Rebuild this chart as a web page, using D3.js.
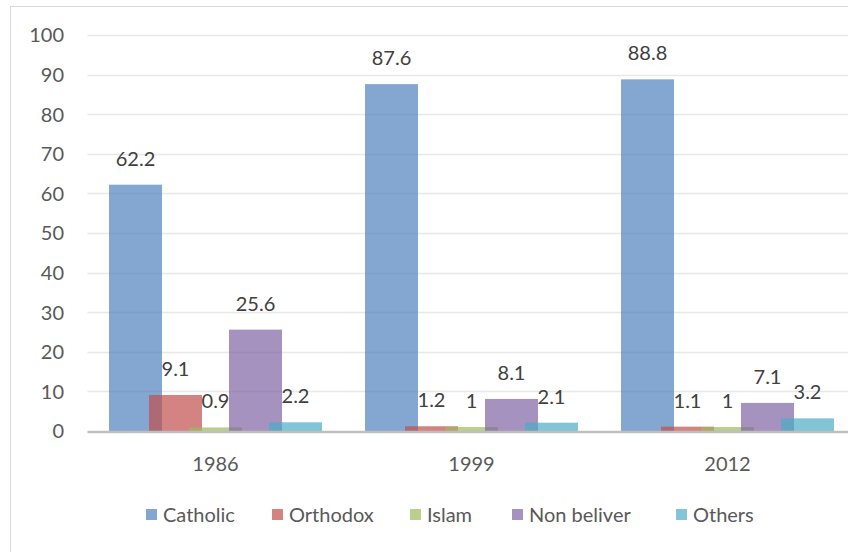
<!DOCTYPE html>
<html><head><meta charset="utf-8">
<script src="https://cdn.jsdelivr.net/npm/d3@7"></script>
<style>body{margin:0;background:#fff}svg{display:block}</style>
</head><body>
<svg id="c" width="848" height="552"></svg>
<script>
const years = ["1986", "1999", "2012"];
const seriesNames = ["Catholic", "Orthodox", "Islam", "Non beliver", "Others"];
const catholic = [62.2, 87.6, 88.8];
const orthodox = [9.1, 1.2, 1.1];
const islam = [0.9, 1, 1];
const nonBeliever = [25.6, 8.1, 7.1];
const others = [2.2, 2.1, 3.2];
const yTicks = [0, 10, 20, 30, 40, 50, 60, 70, 80, 90, 100];
const colors = ["#4F81BD", "#C0504D", "#9BBB59", "#8064A2", "#4BACC6"];

const seriesValues = [catholic, orthodox, islam, nonBeliever, others];
const svg = d3.select("#c");
const font = "Lato, 'Open Sans', sans-serif";
const fs = 20;

// chart border
svg.append("rect").attr("x", 10.5).attr("y", 6.5).attr("width", 900).attr("height", 600)
  .attr("fill", "none").attr("stroke", "#d9d9d9").attr("stroke-width", 1);

const x0 = d3.scaleBand().domain(years).range([87.5, 855.5]);
const y = d3.scaleLinear().domain([0, 100]).range([431, 35]);

const barW = 53, barStep = 40, clusterW = barW + barStep * 4;

// gridlines
svg.append("g").selectAll("line").data(yTicks.filter(d => d > 0)).join("line")
  .attr("x1", 87.5).attr("x2", 860).attr("y1", d => Math.round(y(d)) + 0.5).attr("y2", d => Math.round(y(d)) + 0.5)
  .attr("stroke", "#e8e8e8").attr("stroke-width", 1.5);

// y axis labels
const yAxis = d3.axisLeft(y).tickValues(yTicks).tickSize(0).tickPadding(0);
const gy = svg.append("g").attr("transform", "translate(64,0)").call(yAxis);
gy.select(".domain").remove();
gy.selectAll("text").attr("fill", "#595959").attr("font-size", fs).attr("font-family", font).attr("dy", "0.34em");

// bars
seriesValues.forEach((vals, si) => {
  const g = svg.append("g");
  g.selectAll("rect").data(vals).join("rect")
    .attr("x", (d, i) => x0(years[i]) + (x0.bandwidth() - clusterW) / 2 + si * barStep)
    .attr("y", d => y(d))
    .attr("width", barW)
    .attr("height", d => y(0) - y(d))
    .attr("fill", colors[si]).attr("fill-opacity", 0.7);
});

// baseline
svg.append("line").attr("x1", 87.5).attr("x2", 860).attr("y1", 432).attr("y2", 432)
  .attr("stroke", "#bfbfbf").attr("stroke-width", 2.5);

// labels
seriesValues.forEach((vals, si) => {
  svg.append("g").selectAll("text").data(vals).join("text")
    .attr("x", (d, i) => x0(years[i]) + (x0.bandwidth() - clusterW) / 2 + si * barStep + barW / 2)
    .attr("y", d => y(d) - 19)
    .attr("text-anchor", "middle").attr("fill", "#404040")
    .attr("font-size", fs).attr("font-family", font)
    .text(d => d);
});

// x axis
const xAxis = d3.axisBottom(x0).tickSize(0).tickPadding(0);
const gx = svg.append("g").attr("transform", "translate(0,464)").call(xAxis);
gx.select(".domain").remove();
gx.selectAll("text").attr("fill", "#595959").attr("font-size", fs).attr("font-family", font).attr("dy", "0.34em");

// legend
const legendX = [146, 272, 410, 512, 676];
const lg = svg.append("g");
seriesNames.forEach((n, i) => {
  lg.append("rect").attr("x", legendX[i]).attr("y", 509).attr("width", 11).attr("height", 11)
    .attr("fill", colors[i]).attr("fill-opacity", 0.7);
  lg.append("text").attr("x", legendX[i] + 17).attr("y", 515).attr("dy", "0.35em")
    .attr("fill", "#595959").attr("font-size", fs).attr("font-family", font).text(n);
});
</script>
</body></html>
